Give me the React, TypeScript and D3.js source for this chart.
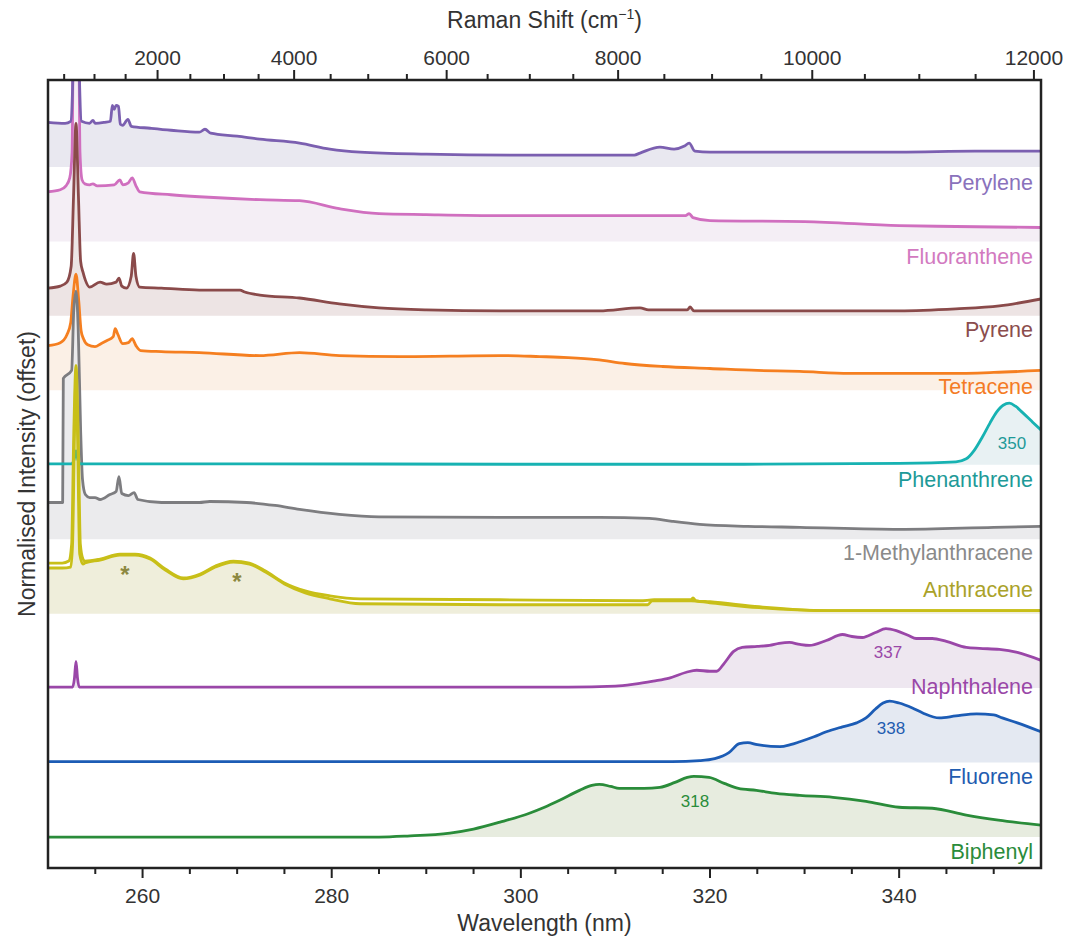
import React from 'react';
import * as d3 from 'd3';

// chart size and plot frame
const W = 1068,
  H = 937;
const frame = { left: 48, right: 1041, top: 80, bottom: 868 };

// excitation wavelength (nm) used to map the Raman shift axis
const LAMBDA0 = 248.58;

// tick labels
const wavelengthTicks = [260, 280, 300, 320, 340];
const wavelengthMinor = [255, 265, 270, 275, 285, 290, 295, 305, 310, 315, 325, 330, 335, 345, 350];
const ramanTicks = [2000, 4000, 6000, 8000, 10000, 12000];
const ramanMinor = [500, 1000, 1500, 2500, 3000, 3500, 4500, 5000, 5500, 6500, 7000, 7500, 8500, 9000, 9500, 10500, 11000, 11500];

// spectra: [wavelength nm, normalised intensity above own offset]
const perylene = [
  [250, 45], [251.8, 44], [252.4, 46], [252.6, 80], [252.75, 200], [253.2, 200], [253.35, 80], [253.55, 46],
  [254.4, 44], [254.75, 47], [255.0, 44], [256.0, 45], [256.6, 46], [256.8, 62], [257.0, 58], [257.2, 62],
  [257.45, 61], [257.65, 43], [257.9, 42], [258.45, 48], [258.8, 41], [260.8, 39], [263, 37], [266.0, 35],
  [266.6, 38], [267.2, 34], [270, 31], [272.4, 28], [276.6, 24], [279.8, 18], [283, 15], [290, 13],
  [300, 12], [308, 12], [312, 12], [312.6, 14], [314.7, 20], [316.2, 18], [317.3, 21], [317.8, 24],
  [318.4, 16], [320, 15], [330, 15], [340, 15], [348, 16], [355, 16],
];
const fluoranthene = [
  [250, 50], [251.3, 52], [251.9, 56], [252.3, 64], [252.55, 90], [252.72, 260], [253.2, 260], [253.38, 90],
  [253.6, 62], [253.9, 58], [254.4, 57], [254.75, 58], [255.2, 56], [257.0, 57], [257.6, 62], [257.9, 57],
  [258.5, 59], [258.9, 64], [259.3, 56], [259.7, 50], [263, 47], [266, 45], [272.4, 42], [276.6, 41],
  [280.8, 33], [285, 28], [290, 27], [297.8, 26], [308.3, 26], [317.4, 26], [317.8, 28], [318.2, 24],
  [320, 21], [330, 20], [340, 16], [346, 15], [355, 14],
];
const pyrene = [
  [250, 28], [251.3, 30], [252.0, 34], [252.45, 50], [252.7, 120], [252.96, 194], [253.22, 120], [253.45, 55],
  [253.7, 44], [253.95, 36], [254.4, 29], [255.5, 34], [256.2, 32], [257.2, 34], [257.5, 38], [257.8, 30],
  [258.3, 28], [258.8, 40], [259.05, 63], [259.3, 40], [259.7, 29], [262, 28], [266, 26], [270.3, 26],
  [270.8, 24], [272.4, 21], [276.6, 18], [280.8, 12], [285, 8], [290, 6], [297.8, 5], [308.3, 5], [312.6, 8],
  [313.5, 6], [317.6, 6], [317.9, 9], [318.3, 5], [330, 5], [340, 5], [346, 7], [350.6, 10], [355, 17],
];
const tetracene = [
  [250, 45], [251.3, 48], [252.0, 56], [252.4, 68], [252.65, 95], [252.96, 117], [253.25, 90], [253.5, 60],
  [253.75, 52], [254.2, 46], [254.97, 44], [255.6, 47], [256.2, 50], [256.9, 54], [257.1, 62], [257.4, 56],
  [257.9, 47], [258.5, 48], [258.9, 52], [259.3, 45], [259.8, 40], [262, 39], [266, 38], [272.4, 35],
  [276.6, 38], [280.8, 35], [287.2, 34], [297.8, 35], [302, 34], [305, 33], [308, 31], [311, 27],
  [315, 24], [320, 22], [325, 20], [329.5, 19], [334.7, 17], [340, 17], [345.3, 17], [350, 18], [355, 20],
];
const phenanthrene = [
  [250, 1], [252.5, 1], [252.75, 5], [252.96, 14], [253.17, 5], [253.4, 1], [270, 1], [300, 0.5], [320, 0.5],
  [340, 1.5], [346.0, 3], [347.1, 6], [347.9, 14], [348.8, 28], [349.6, 42], [350.3, 53], [351.0, 60],
  [351.65, 62], [352.3, 59], [353.0, 53], [354.0, 44], [355, 35],
];
const methylanthracene = [
  [250, 37], [251.55, 37], [251.62, 162], [252.5, 170], [252.72, 230], [252.96, 250], [253.2, 210],
  [253.45, 110], [253.65, 60], [253.95, 45], [254.4, 42], [254.97, 42], [255.5, 40], [256.55, 45], [257.2, 48],
  [257.5, 63], [257.8, 46], [258.5, 44], [259.1, 47], [259.5, 40], [262, 37], [266, 37], [267.1, 38],
  [271, 37], [274, 34], [276.6, 30], [280.8, 25], [285, 22.5], [297.8, 22], [308.3, 22], [313.6, 21],
  [316, 18], [318.9, 15], [324, 13], [329.5, 12], [340, 10], [350, 12], [355, 13],
];
const anthraceneA = [
  [250, 51], [251.5, 51], [252.2, 53], [252.5, 70], [252.72, 180], [252.96, 250], [253.2, 180], [253.42, 70],
  [253.7, 55], [253.9, 53], [255.5, 55], [257.6, 60], [259.2, 60], [260.8, 56], [262.4, 45], [264.3, 36],
  [266.1, 40], [267.7, 48], [269.6, 53], [271.3, 51], [273.0, 43], [275.0, 31], [277.2, 23], [279.8, 18],
  [283, 15], [297.8, 14], [312.6, 13], [314.1, 14], [318.0, 14], [318.2, 16], [318.5, 13], [320, 12],
  [325.2, 7], [332.6, 3], [355, 3],
];
const anthraceneB = [
  [250, 46], [251.5, 46], [252.4, 47], [252.6, 70], [252.8, 180], [252.96, 240], [253.12, 180], [253.35, 60],
  [253.7, 50], [253.9, 51], [255.5, 54], [257.6, 59], [259.2, 59], [260.8, 55], [262.4, 44], [264.3, 35],
  [266.1, 39], [267.7, 47], [269.6, 52], [271.3, 50], [273, 42], [275, 30], [277.2, 21], [279.8, 15],
  [283, 10], [297.8, 9], [313.4, 9], [313.9, 13], [318, 13], [320, 11], [325.2, 6], [332.6, 3], [355, 3],
];
const naphthalene = [
  [250, 1], [252.6, 1], [252.8, 10], [252.96, 27], [253.12, 10], [253.3, 1], [290, 1], [305, 1], [310, 2],
  [312, 4], [314, 7], [315.7, 10], [317.5, 16], [318.6, 18], [320.0, 17], [320.7, 17], [321.5, 25],
  [322.5, 37], [323.4, 41], [325, 42], [326.3, 43], [327.3, 45], [328.4, 46], [329.5, 44], [330.5, 43],
  [332.3, 48], [334, 54], [335, 52], [336.1, 51], [337.5, 56], [338.6, 60], [339.7, 58], [341.0, 53],
  [341.8, 50], [343.5, 50], [345, 47], [347.1, 41], [348.5, 40], [350.6, 39], [352.5, 36], [355, 28],
];
const fluorene = [
  [250, 1], [300, 1], [316, 1], [318.9, 2], [320.5, 4], [322, 10], [323.1, 19], [324, 20], [325, 18],
  [327.4, 16], [328.5, 18], [329.5, 21], [331, 26], [332.3, 31], [334, 36], [335.5, 40], [336.5, 45],
  [337.5, 54], [338.3, 60], [339, 62], [340, 60], [341.4, 55], [342.5, 50], [344.25, 45], [346, 47],
  [348.2, 49], [350, 48], [350.9, 45], [352.5, 40], [355, 31],
];
const biphenyl = [
  [250, 0], [285, 0], [288, 1], [292.5, 4], [295, 8], [297.8, 15], [300.9, 24], [302.5, 30], [304.1, 37],
  [306.2, 47], [307.5, 52], [308.3, 53], [309.5, 51], [310.4, 49], [313, 49], [314.7, 50], [316.3, 55],
  [317.6, 60], [318.3, 61], [319.9, 60], [321.5, 54], [323, 49], [324.9, 47], [327, 44], [329.5, 42],
  [333, 40], [336.5, 36], [340, 30], [343.5, 29], [347.1, 22], [350.5, 17], [355, 12],
];

// order from bottom (0) to top (9)
const names = ['Biphenyl', 'Fluorene', 'Naphthalene', 'Anthracene', '1-Methylanthracene', 'Phenanthrene', 'Tetracene', 'Pyrene', 'Fluoranthene', 'Perylene'];
const OFFSET = 75;

// annotations: peak maxima (nm)
const peakLabels = [
  { series: 'Phenanthrene', text: '350' },
  { series: 'Naphthalene', text: '337' },
  { series: 'Fluorene', text: '338' },
  { series: 'Biphenyl', text: '318' },
];

const styles = {
  Perylene: { line: '#7b5fb0', fill: '#e9e8f0', label: '#8a72bc', labelY: 190 },
  Fluoranthene: { line: '#d06fbf', fill: '#f4eef5', label: '#d27ac0', labelY: 264 },
  Pyrene: { line: '#8a4a4a', fill: '#ede4e4', label: '#8b4d4d', labelY: 337 },
  Tetracene: { line: '#f57f20', fill: '#fbf0e6', label: '#f47b25', labelY: 394 },
  Phenanthrene: { line: '#17b2b2', fill: '#e8f1f3', label: '#1e9a98', labelY: 487 },
  '1-Methylanthracene': { line: '#7d7d80', fill: '#ebebed', label: '#8a8a8a', labelY: 560 },
  Anthracene: { line: '#c8bf18', fill: '#efeedb', label: '#aaa22a', labelY: 597 },
  Naphthalene: { line: '#9a47a8', fill: '#eee7f0', label: '#9a47a8', labelY: 694 },
  Fluorene: { line: '#1c5cb5', fill: '#e4e9f2', label: '#1f5cb0', labelY: 784 },
  Biphenyl: { line: '#2a8c3a', fill: '#e7ecdf', label: '#2a8c3a', labelY: 859 },
};
const peakLabelPos = {
  '350': [1012, 449],
  '337': [888, 658],
  '338': [891, 734],
  '318': [695, 807],
};

const seriesData = {
  Perylene: [perylene],
  Fluoranthene: [fluoranthene],
  Pyrene: [pyrene],
  Tetracene: [tetracene],
  Phenanthrene: [phenanthrene],
  '1-Methylanthracene': [methylanthracene],
  Anthracene: [anthraceneB, anthraceneA],
  Naphthalene: [naphthalene],
  Fluorene: [fluorene],
  Biphenyl: [biphenyl],
};
const drawOrder = ['Fluoranthene', 'Perylene', 'Tetracene', 'Pyrene', '1-Methylanthracene', 'Phenanthrene', 'Anthracene', 'Naphthalene', 'Fluorene', 'Biphenyl'];

const FONT = '"Liberation Sans", Arial, Helvetica, sans-serif';

export default function App() {
  const x = d3.scaleLinear().domain([250, 355]).range([frame.left, frame.right]);
  const y = d3.scaleLinear().domain([-31.2, 762.6]).range([frame.bottom, frame.top]);
  const ramanToNm = (s: number) => 1e7 / (1e7 / LAMBDA0 - s);

  const offsetOf = (name: string) => names.indexOf(name) * OFFSET;

  const lineFor = (off: number) =>
    d3
      .line<number[]>()
      .x((d) => x(d[0]))
      .y((d) => y(off + d[1]))
      .curve(d3.curveMonotoneX);
  const areaFor = (off: number) =>
    d3
      .area<number[]>()
      .x((d) => x(d[0]))
      .y0(y(off))
      .y1((d) => y(off + d[1]))
      .curve(d3.curveMonotoneX);

  return (
    <svg width={W} height={H} style={{ position: 'absolute', left: 0, top: 0, background: '#fff' }} fontFamily={FONT}>
      <defs>
        <clipPath id="plotClip">
          <rect x={frame.left} y={frame.top} width={frame.right - frame.left} height={frame.bottom - frame.top} />
        </clipPath>
      </defs>

      <g clipPath="url(#plotClip)">
        {/* fills */}
        {names
          .slice()
          .reverse()
          .map((name) =>
            seriesData[name].slice(0, 1).map((data, i) => (
              <path key={name + 'f' + i} d={areaFor(offsetOf(name))(data as number[][]) || ''} fill={styles[name].fill} />
            ))
          )}
        {/* lines */}
        {drawOrder.map((name) =>
          seriesData[name].map((data, i) => (
            <path
              key={name + 'l' + i}
              d={lineFor(offsetOf(name))(data as number[][]) || ''}
              fill="none"
              stroke={styles[name].line}
              strokeWidth={2.8}
              strokeLinejoin="round"
            />
          ))
        )}
      </g>

      {/* series labels */}
      {names.map((name) => (
        <text key={name} x={1033} y={styles[name].labelY} textAnchor="end" fontSize={21.5} fill={styles[name].label}>
          {name}
        </text>
      ))}

      {/* peak maxima labels */}
      {peakLabels.map((p) => (
        <text
          key={p.text}
          x={peakLabelPos[p.text][0]}
          y={peakLabelPos[p.text][1]}
          textAnchor="middle"
          fontSize={17}
          fill={styles[p.series].label}
        >
          {p.text}
        </text>
      ))}

      {/* asterisks on anthracene */}
      <text x={125} y={583} textAnchor="middle" fontSize={24} fontWeight="bold" fill="#8c8840">*</text>
      <text x={237} y={590} textAnchor="middle" fontSize={24} fontWeight="bold" fill="#8c8840">*</text>

      {/* frame */}
      <rect
        x={frame.left}
        y={frame.top}
        width={frame.right - frame.left}
        height={frame.bottom - frame.top}
        fill="none"
        stroke="#222"
        strokeWidth={2.5}
      />

      {/* bottom axis */}
      {wavelengthMinor.map((v) => (
        <line key={'wm' + v} x1={x(v)} x2={x(v)} y1={frame.bottom} y2={frame.bottom + 6} stroke="#222" strokeWidth={2} />
      ))}
      {wavelengthTicks.map((v) => (
        <g key={'wt' + v}>
          <line x1={x(v)} x2={x(v)} y1={frame.bottom} y2={frame.bottom + 10} stroke="#222" strokeWidth={2} />
          <text x={x(v)} y={903} textAnchor="middle" fontSize={21} fill="#333">
            {v}
          </text>
        </g>
      ))}
      <text x={(frame.left + frame.right) / 2} y={931} textAnchor="middle" fontSize={23} fill="#333">
        Wavelength (nm)
      </text>

      {/* top axis: Raman shift */}
      {ramanMinor.map((v) => (
        <line
          key={'rm' + v}
          x1={x(ramanToNm(v))}
          x2={x(ramanToNm(v))}
          y1={frame.top}
          y2={frame.top - 6}
          stroke="#222"
          strokeWidth={2}
        />
      ))}
      {ramanTicks.map((v) => (
        <g key={'rt' + v}>
          <line
            x1={x(ramanToNm(v))}
            x2={x(ramanToNm(v))}
            y1={frame.top}
            y2={frame.top - 10}
            stroke="#222"
            strokeWidth={2}
          />
          <text x={x(ramanToNm(v))} y={65} textAnchor="middle" fontSize={21} fill="#333">
            {v}
          </text>
        </g>
      ))}
      <text x={(frame.left + frame.right) / 2} y={28} textAnchor="middle" fontSize={23} fill="#333">
        Raman Shift (cm
        <tspan fontSize={14} dy={-9}>−1</tspan>
        <tspan dy={9}>)</tspan>
      </text>

      {/* y label */}
      <text
        transform={`translate(35, ${(frame.top + frame.bottom) / 2}) rotate(-90)`}
        textAnchor="middle"
        fontSize={23}
        fill="#333"
      >
        Normalised Intensity (offset)
      </text>
    </svg>
  );
}
